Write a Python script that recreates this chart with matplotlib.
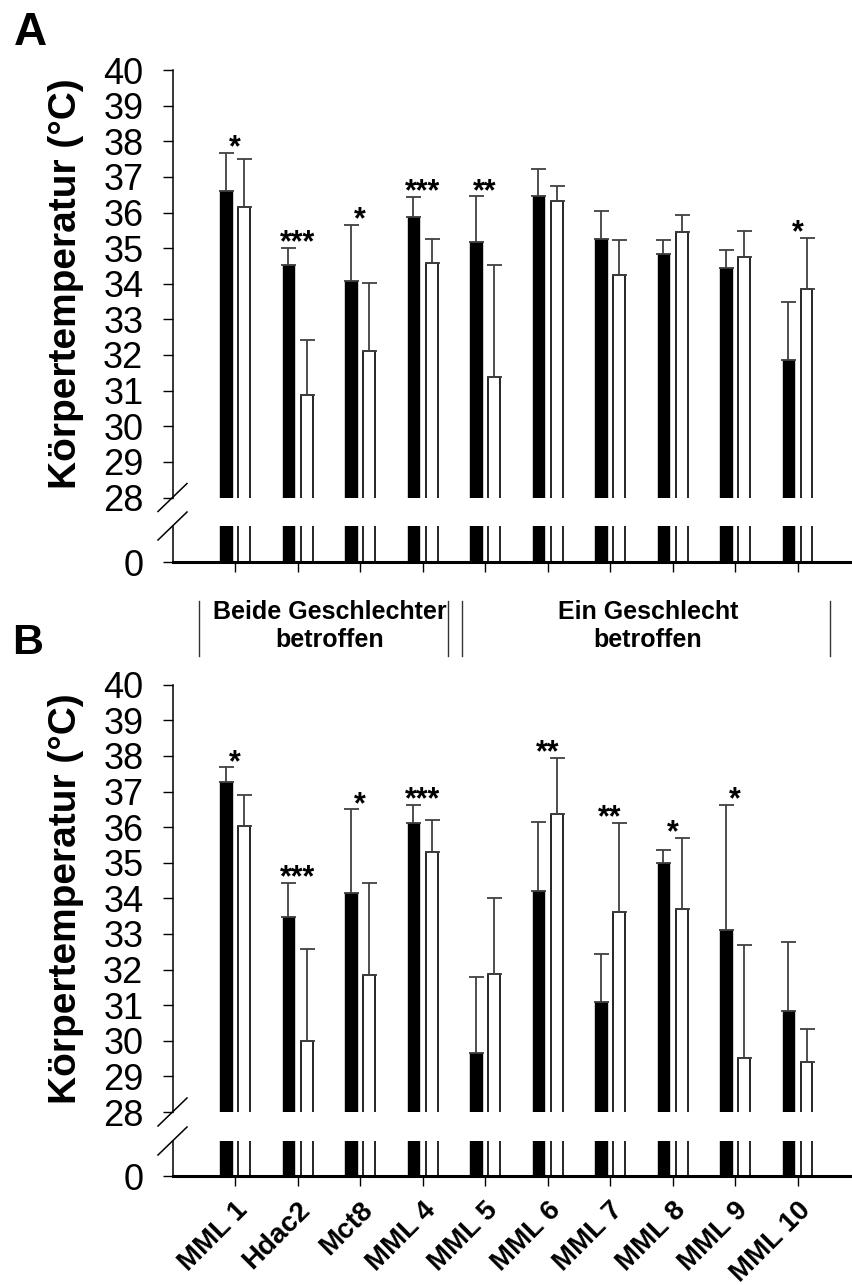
import matplotlib
matplotlib.use("Agg")
import matplotlib.pyplot as plt
import numpy as np
from matplotlib.lines import Line2D

plt.rcParams['font.family'] = ['Liberation Sans', 'DejaVu Sans']

categories = ["MML 1", "Hdac2", "Mct8", "MML 4", "MML 5", "MML 6", "MML 7", "MML 8", "MML 9", "MML 10"]

# Panel A
a_black = [36.59, 34.53, 34.08, 35.88, 35.17, 36.46, 35.27, 34.83, 34.43, 31.85]
a_black_err = [1.08, 0.48, 1.57, 0.55, 1.28, 0.75, 0.77, 0.39, 0.53, 1.65]
a_white = [36.16, 30.87, 32.12, 34.59, 31.37, 36.31, 34.25, 35.45, 34.76, 33.86]
a_white_err = [1.35, 1.55, 1.91, 0.66, 3.16, 0.43, 0.98, 0.47, 0.71, 1.43]
a_stars = ['*', '***', '*', '***', '**', '', '', '', '', '*']

# Panel B
b_black = [37.28, 33.49, 34.16, 36.12, 29.67, 34.20, 31.10, 34.99, 33.11, 30.83]
b_black_err = [0.40, 0.95, 2.34, 0.51, 2.11, 1.95, 1.35, 0.37, 3.52, 1.95]
b_white = [36.03, 29.99, 31.85, 35.31, 31.88, 36.37, 33.62, 33.70, 29.53, 29.41]
b_white_err = [0.86, 2.59, 2.59, 0.89, 2.12, 1.58, 2.50, 2.00, 3.16, 0.93]
b_stars = ['*', '***', '*', '***', '', '**', '**', '*', '*', '']

y_ticks = list(range(28, 41))
ylabel = "Körpertemperatur (°C)"
group_labels = ["Beide Geschlechter\nbetroffen", "Ein Geschlecht\nbetroffen"]

W, H = 852, 1285
fig = plt.figure(figsize=(W / 100, H / 100), dpi=100)


def fx(x):
    return x / W


def fy(y):
    return 1 - y / H


X0, X1 = 172.5, 852
XLIM = (-1, (X1 - X0) / 62.5 - 1)
OFF = 0.145
BW = 0.19
ERRC = '#404040'


def panel(top, bot, ltop, lbot, black, berr, white, werr, stars, show_labels):
    axu = fig.add_axes([fx(X0), fy(bot), fx(X1) - fx(X0), (bot - top) / H])
    axl = fig.add_axes([fx(X0), fy(lbot), fx(X1) - fx(X0), (lbot - ltop) / H], sharex=axu)
    x = np.arange(len(categories))
    for ax in (axu, axl):
        ax.bar(x - OFF, black, BW, color='black', edgecolor='black', linewidth=1)
        ax.bar(x + OFF, white, BW, color='white', edgecolor='black', linewidth=1.2)
        for s in ('top', 'right'):
            ax.spines[s].set_visible(False)
        ax.spines['left'].set_linewidth(1.1)
        ax.tick_params(axis='y', direction='out', length=7, width=1, labelsize=26, pad=14)
        ax.set_xlim(*XLIM)
    n = len(categories)
    axu.errorbar(x - OFF, black, yerr=[np.zeros(n), berr], fmt='none', ecolor=ERRC,
                 elinewidth=1.3, capsize=5.4, capthick=1.3)
    axu.errorbar(x + OFF, white, yerr=[np.zeros(n), werr], fmt='none', ecolor=ERRC,
                 elinewidth=1.3, capsize=5.4, capthick=1.3)
    axu.set_ylim(28, 40)
    axu.set_yticks(y_ticks)
    axu.spines['bottom'].set_visible(False)
    axu.tick_params(axis='x', bottom=False, labelbottom=False)
    axl.set_ylim(0, 1)
    axl.set_yticks([0])
    axl.spines['bottom'].set_linewidth(2.2)
    axl.set_xticks(x)
    axl.tick_params(axis='x', direction='out', length=7, width=1)
    if show_labels:
        axl.set_xticklabels(categories, rotation=45, ha='right', va='top',
                            rotation_mode='anchor', fontsize=20, fontweight='bold')
        axl.tick_params(axis='x', pad=8)
    else:
        axl.set_xticklabels([])
    for i, s in enumerate(stars):
        if s:
            ytop = max(black[i] + berr[i], white[i] + werr[i])
            axu.annotate(s, (x[i], ytop), xytext=(0, -2.5), textcoords='offset points',
                         ha='center', va='baseline', fontsize=22, fontweight='bold')
    # break marks
    for yc in ((bot), (ltop)):
        fig.add_artist(Line2D([fx(158), fx(187)], [fy(yc + 14), fy(yc - 14)],
                              color='black', lw=1.1))
    fig.text(fx(66), fy((top + bot) / 2), ylabel, rotation=90, ha='center', va='center',
             fontsize=28, fontweight='bold')
    return axu, axl


panel(70, 497.5, 526, 562, a_black, a_black_err, a_white, a_white_err, a_stars, False)
panel(684.7, 1112, 1141, 1176, b_black, b_black_err, b_white, b_white_err, b_stars, True)

fig.text(fx(14), fy(11), "A", fontsize=33, fontweight='bold', ha='left', va='top')
fig.text(fx(12), fy(623), "B", fontsize=31, fontweight='bold', ha='left', va='top')

for xv in (199, 448, 462, 830):
    fig.add_artist(Line2D([fx(xv), fx(xv)], [fy(601), fy(656)], color='#333333', lw=1))
fig.text(fx(330), fy(626), group_labels[0], ha='center', va='center', fontsize=18,
         fontweight='bold', linespacing=1.25)
fig.text(fx(648), fy(626), group_labels[1], ha='center', va='center', fontsize=18,
         fontweight='bold', linespacing=1.25)

fig.savefig("out.png", dpi=100)
